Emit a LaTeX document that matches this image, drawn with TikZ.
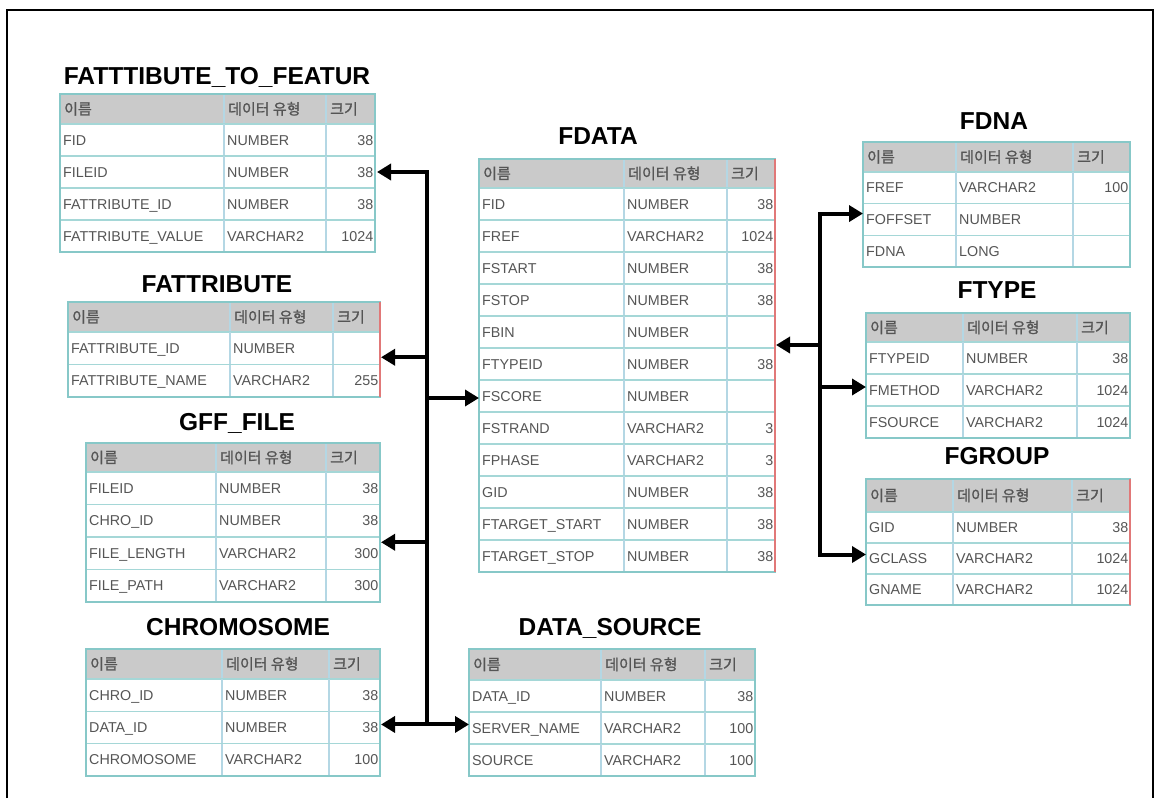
\documentclass[tikz,border=0pt]{standalone}
\usepackage{fontspec}
\setmainfont{Liberation Sans}
\newfontfamily\krfont{Noto Sans CJK KR}[FakeBold=1.2]
\usetikzlibrary{arrows.meta}
\definecolor{hdrgray}{RGB}{202,202,202}
\definecolor{rowline}{RGB}{165,215,215}
\definecolor{collinec}{RGB}{180,215,228}
\definecolor{outerline}{RGB}{135,200,200}
\definecolor{redgec}{RGB}{225,120,120}
\definecolor{celltext}{RGB}{85,85,85}
\tikzset{
  hdrbox/.style={draw=rowline, line width=1.2pt, fill=hdrgray, anchor=north west, inner sep=0pt, outer sep=0pt},
  rowbox/.style={draw=rowline, line width=1.2pt, fill=white, anchor=north west, inner sep=0pt, outer sep=0pt},
  cell/.style={anchor=base west, inner sep=0pt, text=celltext, font=\fontsize{14.3}{16}\selectfont},
  sizecell/.style={anchor=base east, inner sep=0pt, text=celltext, font=\fontsize{14.3}{16}\selectfont},
  hcell/.style={anchor=base west, inner sep=0pt, text=celltext, font=\krfont\fontsize{15}{17}\selectfont},
  colsep/.style={draw=collinec, line width=1.2pt},
  tblframe/.style={draw=outerline, line width=2pt},
  rededge/.style={draw=redgec, line width=2pt},
  ttl/.style={anchor=base, inner sep=0pt, font=\fontsize{24.5}{28}\selectfont\bfseries},
  conn/.style={line width=4pt, draw=black},
  arrowend/.style={-{Triangle[length=14pt,width=16pt]}},
  arrowboth/.style={{Triangle[length=14pt,width=16pt]}-{Triangle[length=14pt,width=16pt]}},
}
% #1 name, #2 x0, #3 y0, #4 x1, #5 c1, #6 c2, #7 header h, #8 row h, #9 rows
\newcommand\dbtab[9]{%
  \node[hdrbox, minimum width={(#4-#2)*1pt}, minimum height={#7*1pt}] (#1-h) at (#2,#3) {};
  \draw[colsep] (#5,#3) -- (#5,{#3+#7});
  \draw[colsep] (#6,#3) -- (#6,{#3+#7});
  \node[hcell] (#1-h1) at ({#2+4},{#3+#7/2+5.5}) {이름};
  \node[hcell] (#1-h2) at ({#5+4},{#3+#7/2+5.5}) {데이터 유형};
  \node[hcell] (#1-h3) at ({#6+4},{#3+#7/2+5.5}) {크기};
  \foreach \na/\ty/\sz [count=\i] in {#9} {
    \node[rowbox, minimum width={(#4-#2)*1pt}, minimum height={#8*1pt}] (#1-r\i) at (#2,{#3+#7+(\i-1)*#8}) {};
    \draw[colsep] (#5,{#3+#7+(\i-1)*#8}) -- (#5,{#3+#7+\i*#8});
    \draw[colsep] (#6,{#3+#7+(\i-1)*#8}) -- (#6,{#3+#7+\i*#8});
    \node[cell] (#1-r\i-a) at ({#2+3},{#3+#7+(\i-0.5)*#8+5}) {\na};
    \node[cell] (#1-r\i-b) at ({#5+3},{#3+#7+(\i-0.5)*#8+5}) {\ty};
    \node[sizecell] (#1-r\i-c) at ({#4-1.5},{#3+#7+(\i-0.5)*#8+5}) {\sz};
  }
}
\begin{document}
\begin{tikzpicture}[x=1pt,y=-1pt]
\useasboundingbox (0,0) rectangle (1156,798);
\fill[white] (0,0) rectangle (1156,798);
\draw[line width=2.5pt] (7,798) -- (7,10) -- (1153,10) -- (1153,798);

% titles
\node[ttl] (t-fatf) at (217,84) {FATTTIBUTE\_TO\_FEATUR};
\node[ttl] (t-fattr) at (217,292) {FATTRIBUTE};
\node[ttl] (t-gff) at (237,430) {GFF\_FILE};
\node[ttl] (t-chrom) at (238,635) {CHROMOSOME};
\node[ttl] (t-dsrc) at (610,635) {DATA\_SOURCE};
\node[ttl] (t-fdata) at (598,144) {FDATA};
\node[ttl] (t-fdna) at (994,129) {FDNA};
\node[ttl] (t-ftype) at (997,298) {FTYPE};
\node[ttl] (t-fgroup) at (997,464) {FGROUP};

% tables
\dbtab{fatf}{60}{94}{375}{224}{326}{30}{32}{FID/NUMBER/38, FILEID/NUMBER/38, FATTRIBUTE\_ID/NUMBER/38, FATTRIBUTE\_VALUE/VARCHAR2/1024}
\draw[tblframe] (fatf-h.north west) rectangle (fatf-r4.south east);

\dbtab{fattr}{68}{302}{380}{230}{333}{30}{32.5}{FATTRIBUTE\_ID/NUMBER/{}, FATTRIBUTE\_NAME/VARCHAR2/255}
\draw[tblframe] (fattr-h.north west) rectangle (fattr-r2.south east);
\draw[rededge] (fattr-h.north east) -- (fattr-r2.south east);

\dbtab{gff}{86}{443}{380}{216}{326}{29}{32.5}{FILEID/NUMBER/38, CHRO\_ID/NUMBER/38, FILE\_LENGTH/VARCHAR2/300, FILE\_PATH/VARCHAR2/300}
\draw[tblframe] (gff-h.north west) rectangle (gff-r4.south east);

\dbtab{chrom}{86}{649}{380}{222}{329}{30}{32.3}{CHRO\_ID/NUMBER/38, DATA\_ID/NUMBER/38, CHROMOSOME/VARCHAR2/100}
\draw[tblframe] (chrom-h.north west) rectangle (chrom-r3.south east);

\dbtab{fdata}{479}{159}{775}{624}{727}{29}{32}{FID/NUMBER/38, FREF/VARCHAR2/1024, FSTART/NUMBER/38, FSTOP/NUMBER/38, FBIN/NUMBER/{}, FTYPEID/NUMBER/38, FSCORE/NUMBER/{}, FSTRAND/VARCHAR2/3, FPHASE/VARCHAR2/3, GID/NUMBER/38, FTARGET\_START/NUMBER/38, FTARGET\_STOP/NUMBER/38}
\draw[tblframe] (fdata-h.north west) rectangle (fdata-r12.south east);
\draw[rededge] (fdata-h.north east) -- (fdata-r12.south east);

\dbtab{dsrc}{469}{649}{755}{601}{705}{31}{32}{DATA\_ID/NUMBER/38, SERVER\_NAME/VARCHAR2/100, SOURCE/VARCHAR2/100}
\draw[tblframe] (dsrc-h.north west) rectangle (dsrc-r3.south east);

\dbtab{fdna}{863}{142}{1130}{956}{1073}{30}{31.7}{FREF/VARCHAR2/100, FOFFSET/NUMBER/{}, FDNA/LONG/{}}
\draw[tblframe] (fdna-h.north west) rectangle (fdna-r3.south east);

\dbtab{ftype}{866}{313}{1130}{963}{1077}{29}{32}{FTYPEID/NUMBER/38, FMETHOD/VARCHAR2/1024, FSOURCE/VARCHAR2/1024}
\draw[tblframe] (ftype-h.north west) rectangle (ftype-r3.south east);

\dbtab{fgroup}{866}{479}{1130}{953}{1072}{33}{31}{GID/NUMBER/38, GCLASS/VARCHAR2/1024, GNAME/VARCHAR2/1024}
\draw[tblframe] (fgroup-h.north west) rectangle (fgroup-r3.south east);
\draw[rededge] (fgroup-h.north east) -- (fgroup-r3.south east);

% connector anchor points
\coordinate (busLx) at (427,0);
\coordinate (busRx) at (820,0);
\coordinate (aFatf) at ([xshift=2pt]fatf-r2.east);
\coordinate (aFattr) at ([xshift=1pt,yshift=-9pt]fattr-r1.east);
\coordinate (aGff) at ([xshift=1pt,yshift=11pt]gff-r3.east);
\coordinate (aChrom) at ([xshift=1pt,yshift=3pt]chrom-r2.east);
\coordinate (aDsrc) at (dsrc-r2.west |- aChrom);
\coordinate (aFscore) at ([yshift=-2pt]fdata-r7.west);
\coordinate (aFdata) at ([xshift=1pt,yshift=3pt]fdata-r5.south east);
\coordinate (aFdna) at ([yshift=6pt]fdna-r2.west);
\coordinate (aFtype) at ([yshift=3pt]ftype-r2.west);
\coordinate (aFgroup) at ([yshift=4pt]fgroup-r2.west);

% left bus
\draw[conn, arrowboth] (aFatf) -- (busLx |- aFatf) -- (busLx |- aChrom) -- (aChrom);
\draw[conn, arrowend] (busLx |- aFattr) -- (aFattr);
\draw[conn, arrowend] (busLx |- aFscore) -- (aFscore);
\draw[conn, arrowend] (busLx |- aGff) -- (aGff);
\draw[conn, arrowend] (busLx |- aDsrc) -- (aDsrc);

% right bus
\draw[conn, arrowboth] (aFdna) -- (busRx |- aFdna) -- (busRx |- aFgroup) -- (aFgroup);
\draw[conn, arrowend] (busRx |- aFtype) -- (aFtype);
\draw[conn, arrowend] (busRx |- aFdata) -- (aFdata);
\end{tikzpicture}
\end{document}
